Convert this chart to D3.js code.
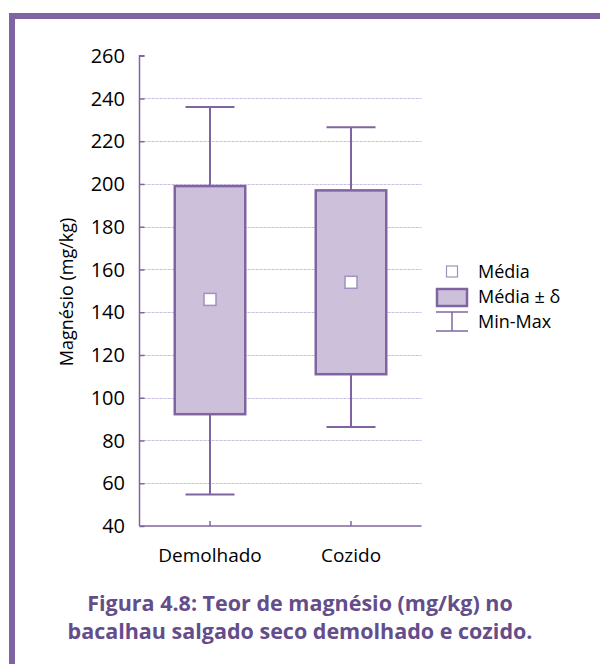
<!DOCTYPE html>
<html>
<head>
<meta charset="utf-8">
<script src="https://cdn.jsdelivr.net/npm/d3@7"></script>
<style>
  body { margin: 0; background: #fff; }
  text { font-family: 'Open Sans', sans-serif; }
</style>
</head>
<body>
<div id="chart"></div>
<script>
// data
var categories = ['Demolhado', 'Cozido']
var means = [146, 154]
var boxLow = [92.3, 111]
var boxHigh = [199, 197]
var minVals = [54.7, 86.3]
var maxVals = [236, 226.5]
var yTicks = [40, 60, 80, 100, 120, 140, 160, 180, 200, 220, 240, 260]
var legendLabels = ['Média', 'Média ± δ', 'Min-Max']

var purple = '#8064a2'
var fillPurple = '#ccc0da'

var width = 600
var height = 664

var svg = d3
  .select('#chart')
  .append('svg')
  .attr('width', width)
  .attr('height', height)

// frame
svg.append('rect').attr('x', 9).attr('y', 13).attr('width', 591).attr('height', 6).attr('fill', purple)
svg.append('rect').attr('x', 9).attr('y', 13).attr('width', 6).attr('height', 651).attr('fill', purple)

var margin = { left: 139.5, right: 421.5, top: 55.7, bottom: 526 }

var yScale = d3.scaleLinear().domain([40, 260]).range([margin.bottom, margin.top])
var xScale = d3
  .scaleBand()
  .domain(categories)
  .range([margin.left, margin.right])

var bw = xScale.bandwidth()

// gridlines
svg
  .selectAll('.grid')
  .data(yTicks.filter(d => d > 40 && d < 260))
  .enter()
  .append('line')
  .attr('class', 'grid')
  .attr('x1', margin.left)
  .attr('x2', margin.right)
  .attr('y1', d => Math.round(yScale(d)) + 0.5)
  .attr('y2', d => Math.round(yScale(d)) + 0.5)
  .attr('stroke', '#cbbde0')
  .attr('stroke-dasharray', '3,1')

// y axis
var yAxis = svg
  .append('g')
  .attr('transform', 'translate(' + margin.left + ',0)')
  .call(d3.axisRight(yScale).tickValues(yTicks).tickSize(5).tickFormat(''))
yAxis.select('.domain').attr('stroke', purple).attr('stroke-width', 1.5).attr('d', 'M5,' + margin.top + 'H0V' + margin.bottom)
yAxis.selectAll('.tick line').attr('stroke', purple).attr('stroke-width', 1.5)

svg
  .selectAll('.ylab')
  .data(yTicks)
  .enter()
  .append('text')
  .attr('class', 'ylab')
  .attr('x', 125)
  .attr('y', d => yScale(d))
  .attr('dy', '0.36em')
  .attr('text-anchor', 'end')
  .attr('font-size', 20)
  .attr('fill', '#000')
  .text(d => d)

// x axis
var xAxis = svg
  .append('g')
  .attr('transform', 'translate(0,' + margin.bottom + ')')
  .call(d3.axisTop(xScale).tickSize(5).tickFormat(''))
xAxis.select('.domain').attr('stroke', purple).attr('stroke-width', 1.5).attr('d', 'M' + margin.left + ',0H' + margin.right)
xAxis.selectAll('.tick line').attr('stroke', purple).attr('stroke-width', 1.5)

svg
  .selectAll('.xlab')
  .data(categories)
  .enter()
  .append('text')
  .attr('class', 'xlab')
  .attr('x', d => xScale(d) + bw / 2)
  .attr('y', 562)
  .attr('text-anchor', 'middle')
  .attr('font-size', 19)
  .attr('fill', '#000')
  .text(d => d)

// axis title
svg
  .append('text')
  .attr('transform', 'translate(67,' + 292 + ') rotate(-90)')
  .attr('dy', '0.35em')
  .attr('text-anchor', 'middle')
  .attr('font-size', 18)
  .attr('fill', '#000')
  .text('Magnésio (mg/kg)')

// boxes
var groups = svg
  .selectAll('.cat')
  .data(categories)
  .enter()
  .append('g')
  .attr('class', 'cat')

groups
  .append('line')
  .attr('x1', d => xScale(d) + bw / 2)
  .attr('x2', d => xScale(d) + bw / 2)
  .attr('y1', (d, i) => yScale(maxVals[i]))
  .attr('y2', (d, i) => yScale(minVals[i]))
  .attr('stroke', purple)
  .attr('stroke-width', 2)

groups
  .selectAll('.cap')
  .data((d, i) => [{ c: d, v: maxVals[i] }, { c: d, v: minVals[i] }])
  .enter()
  .append('line')
  .attr('class', 'cap')
  .attr('x1', d => xScale(d.c) + bw / 2 - 24.5)
  .attr('x2', d => xScale(d.c) + bw / 2 + 24.5)
  .attr('y1', d => yScale(d.v))
  .attr('y2', d => yScale(d.v))
  .attr('stroke', purple)
  .attr('stroke-width', 2)

groups
  .append('rect')
  .attr('x', d => xScale(d) + bw / 4)
  .attr('width', bw / 2)
  .attr('y', (d, i) => yScale(boxHigh[i]))
  .attr('height', (d, i) => yScale(boxLow[i]) - yScale(boxHigh[i]))
  .attr('fill', fillPurple)
  .attr('stroke', purple)
  .attr('stroke-width', 2.5)

groups
  .append('rect')
  .attr('x', d => xScale(d) + bw / 2 - 6)
  .attr('y', (d, i) => yScale(means[i]) - 6)
  .attr('width', 12)
  .attr('height', 12)
  .attr('fill', '#fff')
  .attr('stroke', '#a38fc0')
  .attr('stroke-width', 1.5)

// legend
var lx = 452
var ly = [271.5, 297, 322]
var legend = svg.append('g')

legend
  .append('rect')
  .attr('x', lx - 5.5)
  .attr('y', ly[0] - 5.5)
  .attr('width', 11)
  .attr('height', 11)
  .attr('fill', '#fff')
  .attr('stroke', '#a38fc0')
  .attr('stroke-width', 1.2)

legend
  .append('rect')
  .attr('x', 437)
  .attr('y', 289)
  .attr('width', 30)
  .attr('height', 17)
  .attr('fill', fillPurple)
  .attr('stroke', purple)
  .attr('stroke-width', 2.5)

legend.append('line').attr('x1', 436).attr('x2', 468).attr('y1', 312).attr('y2', 312).attr('stroke', purple).attr('stroke-width', 1.5)
legend.append('line').attr('x1', 436).attr('x2', 468).attr('y1', 331).attr('y2', 331).attr('stroke', purple).attr('stroke-width', 1.5)
legend.append('line').attr('x1', 452).attr('x2', 452).attr('y1', 312).attr('y2', 331).attr('stroke', purple).attr('stroke-width', 1.5)

legend
  .selectAll('.leglab')
  .data(legendLabels)
  .enter()
  .append('text')
  .attr('class', 'leglab')
  .attr('x', 478)
  .attr('y', (d, i) => ly[i])
  .attr('dy', '0.36em')
  .attr('font-size', 18)
  .attr('fill', '#000')
  .text(d => d)

// caption
var caption = svg
  .append('text')
  .attr('text-anchor', 'middle')
  .attr('font-size', 21.5)
  .attr('font-weight', 700)
  .attr('fill', '#644d8a')
caption.append('tspan').attr('x', 300).attr('y', 611).text('Figura 4.8: Teor de magnésio (mg/kg) no')
caption.append('tspan').attr('x', 300).attr('y', 639).text('bacalhau salgado seco demolhado e cozido.')
</script>
</body>
</html>
